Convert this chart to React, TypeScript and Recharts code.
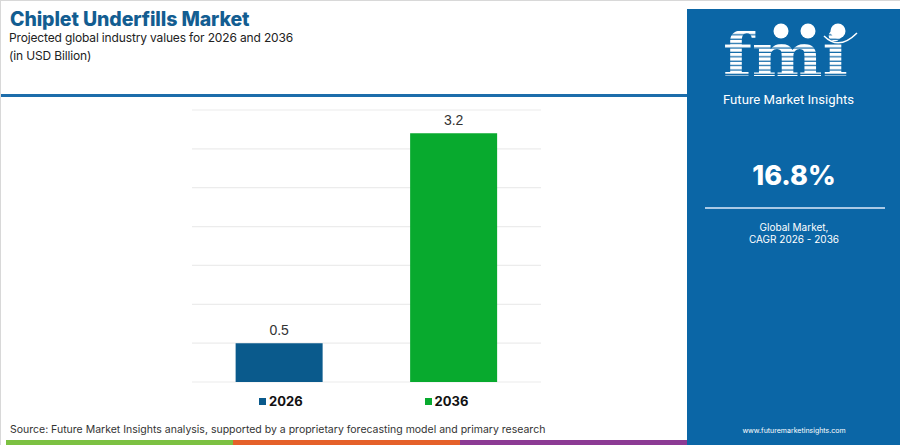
import { BarChart, Bar, XAxis, YAxis, CartesianGrid, Cell, LabelList } from "recharts";

const categories = ["2026", "2036"];
const values = [0.5, 3.2];
const barColors = ["#0a5a8c", "#08aa2e"];
const yTicks = [0, 0.5, 1, 1.5, 2, 2.5, 3, 3.5];
const stripColors = ["#7cc142", "#e5612a", "#8c3b94"];

const chartData = categories.map((year, i) => ({ year, value: values[i] }));

const FONT = "Inter, 'Open Sans', sans-serif";

function Logo() {
  return (
    <svg width={214} height={110} style={{ position: "absolute", left: 0, top: 0 }}>
      <defs>
        <pattern id="stripes" width="4" height="4.4" patternUnits="userSpaceOnUse">
          <rect x={0} y={0} width={4} height={3.2} fill="#ffffff" />
        </pattern>
      </defs>
      <text
        x={36}
        y={67}
        fontFamily="'DejaVu Serif', serif"
        fontWeight={700}
        fontSize={60}
        fill="url(#stripes)"
        textLength={125}
        lengthAdjust="spacingAndGlyphs"
      >
        fmi
      </text>
      <circle cx={94} cy={22} r={7.5} fill="#ffffff" />
      <circle cx={121} cy={22} r={7.5} fill="#ffffff" />
      <circle cx={151} cy={22} r={7.5} fill="#ffffff" />
      <path d="M 137 27 Q 152 42 170 24" stroke="#ffffff" strokeWidth={1.5} fill="none" />
      <text
        x={36}
        y={95}
        fontFamily="Roboto, sans-serif"
        fontSize={13.5}
        fill="#ffffff"
        textLength={131}
        lengthAdjust="spacingAndGlyphs"
      >
        Future Market Insights
      </text>
    </svg>
  );
}

export default function App() {
  return (
    <div
      style={{
        position: "fixed",
        left: 0,
        top: 0,
        width: 900,
        height: 445,
        background: "#ffffff",
        overflow: "hidden",
        fontFamily: FONT,
        boxSizing: "border-box",
        borderTop: "1px solid #d8d8d8",
        borderLeft: "1px solid #d8d8d8",
      }}
    >
      <div style={{ position: "absolute", left: 9, top: 6, fontSize: 19.5, fontWeight: 800, color: "#135d91", letterSpacing: -0.1 }}>
        Chiplet Underfills Market
      </div>
      <div style={{ position: "absolute", left: 8, top: 28, fontSize: 12, letterSpacing: -0.15, color: "#222", lineHeight: "18px" }}>
        Projected global industry values for 2026 and 2036
        <br />
        (in USD Billion)
      </div>
      <div style={{ position: "absolute", left: 0, top: 93, width: 686, height: 3, background: "#1d6dab" }} />

      <div style={{ position: "absolute", left: 0, top: 0 }}>
        <BarChart
          width={686}
          height={390}
          data={chartData}
          margin={{ top: 109, right: 146, bottom: 9, left: 191 }}
          barCategoryGap="25%"
        >
          <CartesianGrid vertical={false} stroke="#ececec" strokeWidth={1.2} />
          <XAxis dataKey="year" hide />
          <YAxis hide domain={[0, 3.5]} ticks={yTicks} />
          <Bar dataKey="value" isAnimationActive={false}>
            {chartData.map((d, i) => (
              <Cell key={d.year} fill={barColors[i]} />
            ))}
            <LabelList
              dataKey="value"
              position="top"
              offset={8}
              fill="#333333"
              fontSize={14}
              fontFamily="'Liberation Sans', Arial, sans-serif"
            />
          </Bar>
        </BarChart>
      </div>

      <div style={{ position: "absolute", left: 258, top: 392, display: "flex", gap: 122 }}>
        {categories.map((c, i) => (
          <div key={c} style={{ display: "flex", alignItems: "center", fontSize: 13, fontWeight: 700, color: "#111" }}>
            <span style={{ width: 7, height: 7, background: barColors[i], marginRight: 3, display: "inline-block" }} />
            {c}
          </div>
        ))}
      </div>

      <div style={{ position: "absolute", left: 9, top: 422, fontSize: 10.5, color: "#333", whiteSpace: "nowrap" }}>
        Source: Future Market Insights analysis, supported by a proprietary forecasting model and primary research
      </div>

      {stripColors.map((c, i) => (
        <div key={c} style={{ position: "absolute", left: 5 + i * 227, top: 439, width: 227, height: 6, background: c }} />
      ))}

      <div style={{ position: "absolute", left: 686, top: 8, width: 214, height: 437, background: "#0b66a6" }}>
        <Logo />
        <div style={{ position: "absolute", left: 0, width: 214, top: 150, textAlign: "center", color: "#fff", fontSize: 27, fontWeight: 800 }}>
          16.8%
        </div>
        <div style={{ position: "absolute", left: 18, top: 198, width: 180, height: 2, background: "#a9c9e6" }} />
        <div style={{ position: "absolute", left: 0, width: 214, top: 212, textAlign: "center", color: "#fff", fontSize: 10, lineHeight: "12px" }}>
          Global Market,
          <br />
          CAGR 2026 - 2036
        </div>
        <div style={{ position: "absolute", left: 0, width: 214, top: 417, textAlign: "center", color: "#fff", fontSize: 7 }}>
          www.futuremarketinsights.com
        </div>
      </div>
    </div>
  );
}
